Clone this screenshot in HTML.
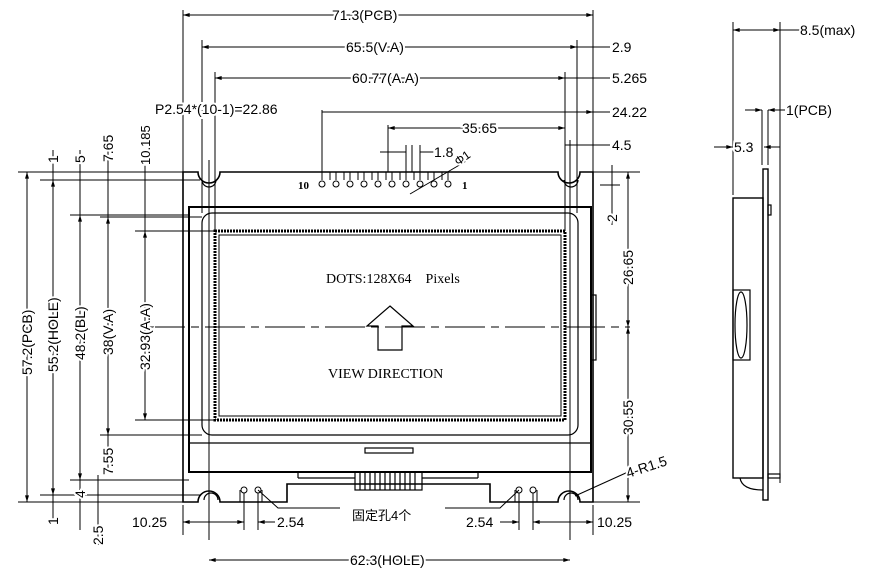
<!DOCTYPE html>
<html><head><meta charset="utf-8"><style>
html,body{margin:0;padding:0;background:#fff}
svg{display:block}
text{font-family:"Liberation Sans","Noto Sans CJK SC",sans-serif;font-size:14px;fill:#000;paint-order:stroke;stroke:#fff;stroke-width:4px}
.s{font-family:"Liberation Serif","Noto Serif CJK SC",serif;font-size:14px;stroke:none}
</style></head><body>
<svg width="884" height="580" viewBox="0 0 884 580" xmlns="http://www.w3.org/2000/svg">
<defs><marker id="a" viewBox="0 0 10 6" refX="10" refY="3" markerWidth="8" markerHeight="4" orient="auto-start-reverse"><path d="M0,0L10,3L0,6z" fill="#000"/></marker></defs>
<g stroke="#000" fill="none" stroke-width="1.2">
<path d="M183,172H198A11,11 0 0 0 220,172H558A11,11 0 0 0 580,172H593V502H580A11,11 0 0 0 558,502H490V484H287V502H220A11,11 0 0 0 198,502H183Z" stroke-width="1.6"/>
<path d="M202,180A7,7 0 0 0 216,180M564,180A7,7 0 0 0 578,180M204,500A7,7 0 0 1 218,500M564,500A7,7 0 0 1 578,500"/>
<rect x="189" y="207" width="402" height="265" stroke-width="2"/>
<rect x="202" y="213" width="376" height="222" rx="10"/>
<line x1="189" y1="443" x2="591" y2="443"/>
<rect x="215" y="231" width="350" height="189" stroke-width="3" stroke-dasharray="2 1"/>
<rect x="219" y="235" width="342" height="181" stroke-width="1"/>
<rect x="365" y="448" width="48" height="5"/>
<rect x="355" y="472" width="67" height="18"/>
<path d="M360,472V490M365,472V490M370,472V490M375,472V490M380,472V490M385,472V490M390,472V490M395,472V490M400,472V490M405,472V490M410,472V490M415,472V490"/>
<path d="M298,478H355M422,478H478M298,472V478M478,472V478"/>
<rect x="591" y="295" width="5" height="65"/>
<g stroke-width="1">
<path d="M322,110V180M336,172V180M350,172V180M364,172V180M378,172V180M392,172V180M406,172V180M420,172V180M434,172V180M448,172V180"/>
<circle cx="322" cy="184" r="3"/><circle cx="336" cy="184" r="3"/><circle cx="350" cy="184" r="3"/><circle cx="364" cy="184" r="3"/><circle cx="378" cy="184" r="3"/><circle cx="392" cy="184" r="3"/><circle cx="406" cy="184" r="3"/><circle cx="420" cy="184" r="3"/><circle cx="434" cy="184" r="3"/><circle cx="448" cy="184" r="3"/>
<path d="M330,172V180M344,172V180M358,172V180M372,172V180M386,172V180M400,172V180M414,172V180M428,172V180M442,172V180"/>
<line x1="410" y1="194" x2="468" y2="160"/>
<circle cx="244" cy="490" r="3"/><circle cx="258" cy="490" r="3"/><circle cx="519" cy="490" r="3"/><circle cx="533" cy="490" r="3"/>
<path d="M244,493V530M258,493V530M519,493V530M533,493V530M240,490V502M262,490V502M515,490V502M537,490V502"/>
<path d="M258,490L278,508H340M519,490L500,508H445M575,496L628,472"/>
</g>
<line x1="145" y1="327" x2="630" y2="327" stroke-dasharray="40 6 8 6" stroke-width="1"/>
<line x1="209" y1="160" x2="209" y2="540" stroke-width="1"/>
<line x1="570" y1="160" x2="570" y2="540" stroke-width="1"/>
<g stroke-width="1">
<path d="M183,10V172M593,10V172M202,40V213M577,40V213M215,72V231M565,72V231M388,125V172"/>
<line x1="183" y1="15" x2="593" y2="15" marker-start="url(#a)" marker-end="url(#a)"/>
<line x1="202" y1="47" x2="577" y2="47" marker-start="url(#a)" marker-end="url(#a)"/>
<line x1="577" y1="47" x2="610" y2="47"/>
<line x1="215" y1="78" x2="565" y2="78" marker-start="url(#a)" marker-end="url(#a)"/>
<line x1="565" y1="78" x2="610" y2="78"/>
<line x1="322" y1="112" x2="593" y2="112" marker-end="url(#a)"/>
<line x1="593" y1="112" x2="610" y2="112"/>
<line x1="388" y1="128" x2="565" y2="128" marker-start="url(#a)" marker-end="url(#a)"/>
<line x1="565" y1="145" x2="610" y2="145"/>
<line x1="570" y1="140" x2="570" y2="160"/>
<path d="M380,152H406M420,152H440M406,145V172M412,145V172M420,145V172"/>
<path d="M593,172H640M593,502H640M600,185H620M612,165V225"/>
<line x1="628" y1="172" x2="628" y2="327" marker-start="url(#a)" marker-end="url(#a)"/>
<line x1="628" y1="327" x2="628" y2="502" marker-start="url(#a)" marker-end="url(#a)"/>
<path d="M18,172H183M40,180H200M70,215H189M100,217H202M135,231H215M135,420H215M100,435H202M70,480H189M40,495H200M18,502H183M80,470V530M98,475V545"/>
<line x1="27" y1="172" x2="27" y2="502" marker-start="url(#a)" marker-end="url(#a)"/>
<line x1="53" y1="180" x2="53" y2="495" marker-start="url(#a)" marker-end="url(#a)"/>
<line x1="53" y1="150" x2="53" y2="520"/>
<line x1="80" y1="215" x2="80" y2="480" marker-start="url(#a)" marker-end="url(#a)"/>
<line x1="80" y1="150" x2="80" y2="215"/>
<line x1="108" y1="217" x2="108" y2="435" marker-start="url(#a)" marker-end="url(#a)"/>
<line x1="108" y1="150" x2="108" y2="217"/><line x1="108" y1="435" x2="108" y2="470"/>
<line x1="145" y1="231" x2="145" y2="420" marker-start="url(#a)" marker-end="url(#a)"/>
<line x1="145" y1="150" x2="145" y2="231"/>
<line x1="183" y1="505" x2="183" y2="535"/><line x1="593" y1="505" x2="593" y2="535"/>
<line x1="183" y1="522" x2="244" y2="522" marker-start="url(#a)" marker-end="url(#a)"/>
<line x1="258" y1="522" x2="275" y2="522" marker-start="url(#a)"/>
<line x1="533" y1="522" x2="593" y2="522" marker-start="url(#a)" marker-end="url(#a)"/>
<line x1="500" y1="522" x2="519" y2="522" marker-end="url(#a)"/>
<line x1="209" y1="560" x2="570" y2="560" marker-start="url(#a)" marker-end="url(#a)"/>
<path d="M733,22V195M780,22V483M762,110V165M768,110V165"/>
<line x1="733" y1="30" x2="780" y2="30" marker-start="url(#a)" marker-end="url(#a)"/>
<line x1="780" y1="30" x2="800" y2="30"/>
<line x1="745" y1="110" x2="762" y2="110" marker-end="url(#a)"/>
<line x1="785" y1="110" x2="768" y2="110" marker-end="url(#a)"/>
<line x1="714" y1="147" x2="733" y2="147" marker-end="url(#a)"/>
<line x1="780" y1="147" x2="764" y2="147" marker-end="url(#a)"/>
</g>
<rect x="763" y="169" width="5" height="331" stroke-width="1.4"/>
<rect x="733" y="198" width="30" height="280" stroke-width="1.4"/>
<rect x="768" y="205" width="3" height="10"/>
<rect x="768" y="474" width="12" height="4"/>
<rect x="733" y="290" width="17" height="70"/>
<ellipse cx="741" cy="325" rx="6" ry="33"/>
<path d="M740,478Q742,490 763,490"/>
<path d="M390,306L413,326H402V350H378V326H367Z" stroke-width="1.2"/>
</g>
<text x="332" y="20">71.3(PCB)</text>
<text x="346" y="52">65.5(V.A)</text>
<text x="612" y="52">2.9</text>
<text x="352" y="83">60.77(A.A)</text>
<text x="612" y="83">5.265</text>
<text x="155" y="114">P2.54*(10-1)=22.86</text>
<text x="612" y="117">24.22</text>
<text x="462" y="133">35.65</text>
<text x="612" y="150">4.5</text>
<text x="434" y="157">1.8</text>
<text x="458" y="166" transform="rotate(-35 458 166)" style="font-size:12px">Φ1</text>
<text x="298" y="189" class="s" style="font-size:11px;font-weight:bold">10</text>
<text x="462" y="189" class="s" style="font-size:11px;font-weight:bold">1</text>
<text x="326" y="283" class="s">DOTS:128X64&#160;&#160;&#160;&#160;Pixels</text>
<text x="328" y="378" class="s">VIEW DIRECTION</text>
<text x="800" y="35">8.5(max)</text>
<text x="786" y="115">1(PCB)</text>
<text x="734" y="152">5.3</text>
<text x="132" y="527">10.25</text>
<text x="277" y="527">2.54</text>
<text x="466" y="527">2.54</text>
<text x="597" y="527">10.25</text>
<text x="352" y="520" style="font-size:13px;stroke:none">固定孔4个</text>
<text x="350" y="565">62.3(HOLE)</text>
<text x="628" y="478" transform="rotate(-18 628 478)">4-R1.5</text>
<g>
<text transform="translate(617,222) rotate(-90)">2</text>
<text transform="translate(633,285) rotate(-90)">26.65</text>
<text transform="translate(633,435) rotate(-90)">30.55</text>
<text transform="translate(32,375) rotate(-90)">57.2(PCB)</text>
<text transform="translate(58,372) rotate(-90)">55.2(HOLE)</text>
<text transform="translate(85,360) rotate(-90)">48.2(BL)</text>
<text transform="translate(113,355) rotate(-90)">38(V.A)</text>
<text transform="translate(150,370) rotate(-90)">32.93(A.A)</text>
<text transform="translate(58,163) rotate(-90)">1</text>
<text transform="translate(85,163) rotate(-90)">5</text>
<text transform="translate(113,162) rotate(-90)">7.65</text>
<text transform="translate(150,165) rotate(-90)" style="font-size:13px">10.185</text>
<text transform="translate(113,475) rotate(-90)">7.55</text>
<text transform="translate(85,498) rotate(-90)">4</text>
<text transform="translate(58,525) rotate(-90)">1</text>
<text transform="translate(103,545) rotate(-90)">2.5</text>
</g>
</svg>
</body></html>
